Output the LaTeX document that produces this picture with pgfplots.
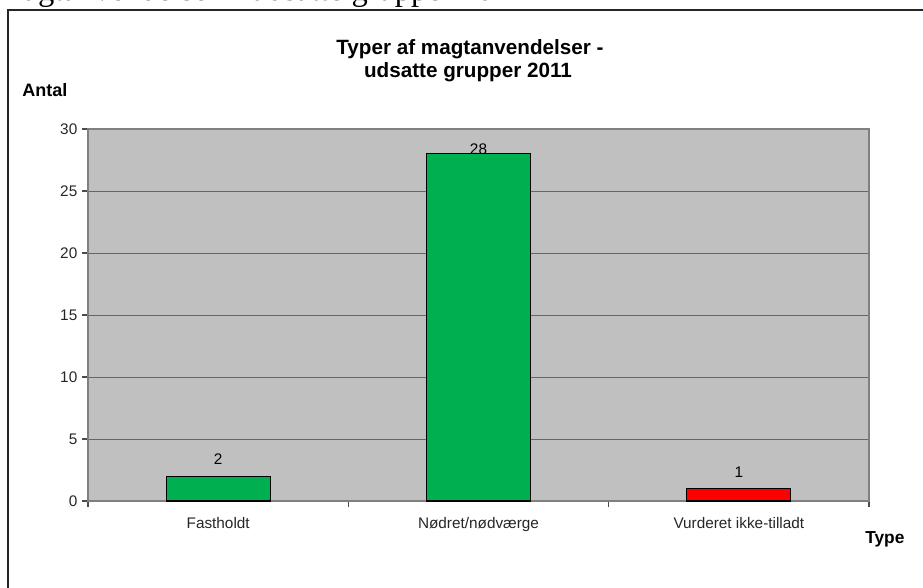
\documentclass[border=0pt]{standalone}
\usepackage{pgfplots}
\pgfplotsset{compat=1.18}
\usepackage{fontspec}
\setmainfont{Liberation Sans}
\newfontfamily\serifhead{Liberation Serif}
\definecolor{barGreen}{HTML}{00B050}
\definecolor{barRed}{HTML}{FF0000}
\definecolor{plotGrey}{HTML}{C0C0C0}

\begin{document}
\begin{tikzpicture}[x=0.75pt,y=0.75pt]
\useasboundingbox (0,0) rectangle (923,588);
\clip (0,0) rectangle (923,588);
% page heading, cut off by the top edge
\node[anchor=base west, inner sep=0pt, font=\serifhead\fontsize{24.4}{28}\selectfont] at (-2,587) {magtanvendelser – udsatte grupper 2011};
% chart frame, runs past the right and bottom edges
\draw[black!85, line width=0.8pt] (8,-20) rectangle (940,578);
% title and axis titles
\node[anchor=base, inner sep=0pt, font=\bfseries\fontsize{15.5}{18}\selectfont] at (470,533) {Typer af magtanvendelser -};
\node[anchor=base, inner sep=0pt, font=\bfseries\fontsize{15.5}{18}\selectfont] at (468,510) {udsatte grupper 2011};
\node[anchor=base west, inner sep=0pt, font=\bfseries\fontsize{13.5}{15}\selectfont] at (22,491) {Antal};
\node[anchor=base west, inner sep=0pt, font=\bfseries\fontsize{13}{15}\selectfont] at (865,44) {Type};
\coordinate (axpos) at (88,87);

\begin{axis}[
  at={(axpos)}, anchor=south west,
  scale only axis,
  width=585.75pt, height=279pt,
  xmin=-0.5, xmax=2.5,
  ymin=0, ymax=30,
  ytick={0,5,...,30},
  xtick={-0.5,0.5,1.5,2.5},
  xticklabels={},
  extra x ticks={0,1,2},
  extra x tick labels={Fastholdt,Nødret/nødværge,Vurderet ikke-tilladt},
  extra x tick style={major tick length=0pt, grid=none},
  xtick pos=lower, ytick pos=left,
  tick align=outside,
  major tick length=4.5pt,
  tick style={black!70, line width=0.8pt},
  ymajorgrids,
  major grid style={black!60, line width=0.7pt},
  axis line style={black!50, line width=0.9pt},
  axis background/.style={fill=plotGrey},
  yticklabel style={font=\fontsize{11.5}{13}\selectfont, text=black!85},
  xticklabel style={font=\fontsize{11.5}{13}\selectfont, text=black!85, anchor=north, inner sep=0pt, yshift=-12pt},
  /pgf/number format/assume math mode=true,
  clip=false,
]
\addplot[ybar, bar width=78pt, bar shift=0pt, fill=barGreen, draw=black, line width=0.8pt,
  nodes near coords, every node near coord/.append style={font=\fontsize{11.5}{13}\selectfont, anchor=base, inner sep=0pt, yshift=9pt}]
  coordinates {(0,2)};
\addplot[ybar, bar width=78pt, bar shift=0pt, fill=barGreen, draw=black, line width=0.8pt,
  nodes near coords, every node near coord/.append style={font=\fontsize{11.5}{13}\selectfont, anchor=base, inner sep=0pt, yshift=-0.75pt}]
  coordinates {(1,28)};
\addplot[ybar, bar width=78pt, bar shift=0pt, fill=barRed, draw=black, line width=0.8pt,
  nodes near coords, every node near coord/.append style={font=\fontsize{11.5}{13}\selectfont, anchor=base, inner sep=0pt, yshift=8.5pt}]
  coordinates {(2,1)};
\end{axis}
\end{tikzpicture}
\end{document}
